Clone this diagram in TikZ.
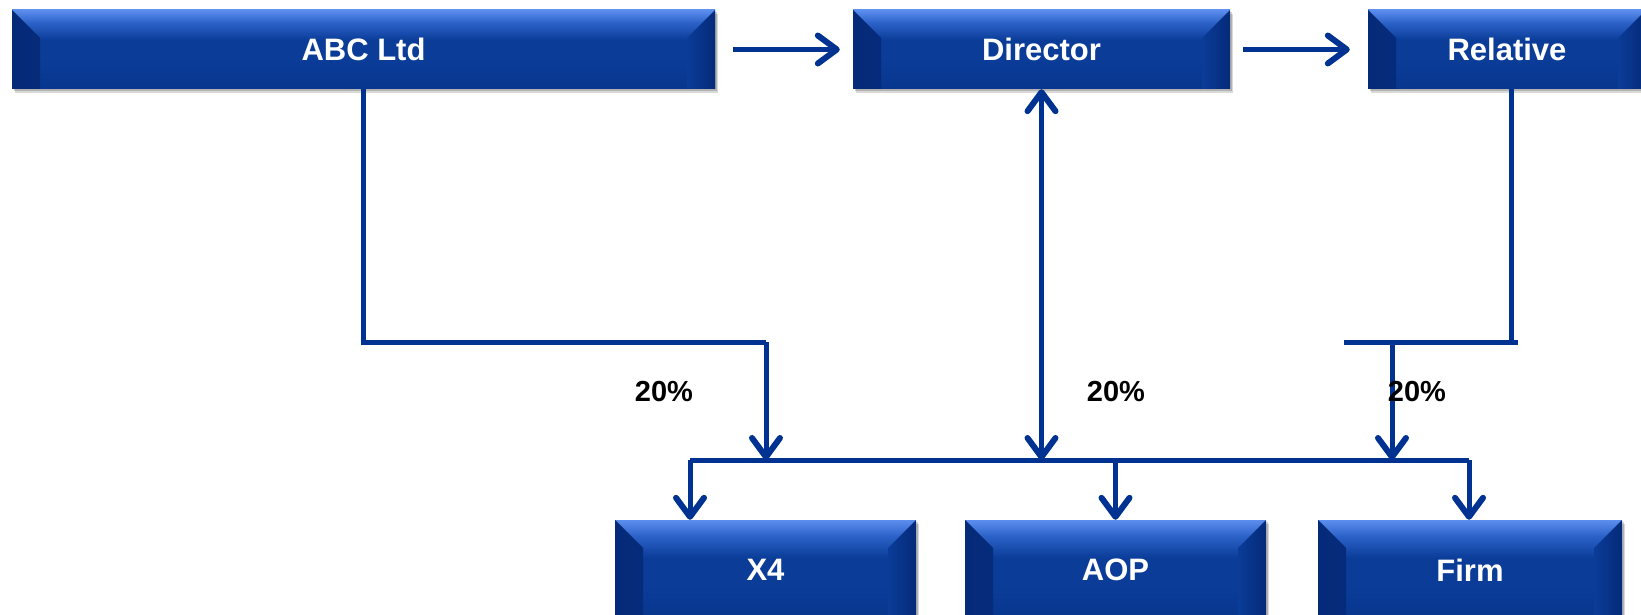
\documentclass[tikz,border=0pt]{standalone}
\usepackage{fontspec}
\setmainfont{Liberation Sans}
\usetikzlibrary{arrows.meta,shadows,calc}

\definecolor{navy}{RGB}{0,51,145}
\definecolor{boxtop}{RGB}{92,142,238}
\definecolor{boxupper}{RGB}{44,98,200}
\definecolor{boxmid}{RGB}{10,60,152}
\definecolor{boxbot}{RGB}{8,54,142}
\definecolor{boxside}{RGB}{5,42,120}

% vertical gradient of the bevelled boxes; the face spans 25bp (bottom) to 75bp (top)
\pgfdeclareverticalshading{bevel}{100bp}{%
  color(0bp)=(boxbot); color(25bp)=(boxbot); color(43bp)=(boxmid);
  color(56bp)=(boxmid); color(67bp)=(boxupper); color(75bp)=(boxtop);
  color(100bp)=(boxtop)}

\tikzset{
  bevelbox/.style={
    inner sep=0pt, text=white,
    font=\bfseries\fontsize{31}{31}\selectfont,
    shade, shading=bevel,
    drop shadow={shadow xshift=3pt, shadow yshift=-4pt, fill=black, opacity=.15},
    drop shadow={shadow xshift=1.5pt, shadow yshift=-2pt, fill=black, opacity=.18},
    path picture={
      % darker side bevels, fading towards the face
      \shade[left color=boxside, right color=boxmid]
        (path picture bounding box.north west)
        -- ([shift={(28pt,-28pt)}]path picture bounding box.north west)
        -- ([shift={(28pt,0pt)}]path picture bounding box.south west)
        -- (path picture bounding box.south west) -- cycle;
      \shade[left color=boxmid, right color=boxside]
        (path picture bounding box.north east)
        -- ([shift={(-28pt,-28pt)}]path picture bounding box.north east)
        -- ([shift={(-28pt,0pt)}]path picture bounding box.south east)
        -- (path picture bounding box.south east) -- cycle;
    }
  },
  link/.style={draw=navy, line width=5pt, line join=miter},
  barb/.tip={Straight Barb[length=19pt,width=28pt,round,line width=6pt]},
  arr/.style={link, -barb},
  arrboth/.style={link, barb-barb},
  pct/.style={font=\bfseries\fontsize{29}{29}\selectfont, text=black, inner sep=0pt}
}

\begin{document}
\begin{tikzpicture}[x=1pt, y=-1pt]
  \useasboundingbox (0,0) rectangle (1641,615);

  % upper row
  \node[bevelbox, minimum width=703pt, minimum height=79pt] (abc) at (363.5,49.5) {ABC Ltd};
  \node[bevelbox, minimum width=377pt, minimum height=79pt] (dir) at (1041.5,49.5) {Director};
  \node[bevelbox, minimum width=278pt, minimum height=79pt] (rel) at (1507,49.5) {Relative};

  % lower row
  \node[bevelbox, minimum width=301pt, minimum height=100pt] (x4) at (765.5,570) {X4};
  \node[bevelbox, minimum width=301pt, minimum height=100pt] (aop) at (1115.5,570) {AOP};
  \node[bevelbox, minimum width=304pt, minimum height=100pt] (firm) at (1470,570) {Firm};

  % junction points
  \coordinate (abcturn) at (766,342);
  \coordinate (busL) at (690,460);
  \coordinate (busR) at (1469,460);
  \coordinate (relL) at (1344,342);
  \coordinate (relR) at (1518,342);
  \coordinate (reldrop) at (1392,342);

  % chain along the top
  \draw[arr] ([xshift=18pt]abc.east) -- ([xshift=-13pt]dir.west);
  \draw[arr] ([xshift=13pt]dir.east) -- ([xshift=-18pt]rel.west);

  % ABC Ltd holding
  \draw[link] (abc.south) |- (abcturn);
  \draw[arr] (abcturn) -- (abcturn |- busL);

  % Director holding
  \draw[arrboth] (dir.south) -- (dir.south |- busL);

  % Relative holding
  \draw[link] ([xshift=4pt]rel.south) -- ([xshift=4pt]rel.south |- relR);
  \draw[link] (relL) -- (relR);
  \draw[arr] (reldrop) -- (reldrop |- busL);

  % distribution bus
  \draw[link] (busL) -- (busR);
  \draw[arr] (busL) -- (busL |- x4.north);
  \draw[arr] (aop.north |- busL) -- (aop.north);
  \draw[arr] (busR) -- (busR |- firm.north);

  % share labels
  \node[pct] (p1) at (664,392) {20\%};
  \node[pct] (p2) at (1116,392) {20\%};
  \node[pct] (p3) at (1417,392) {20\%};
\end{tikzpicture}
\end{document}
